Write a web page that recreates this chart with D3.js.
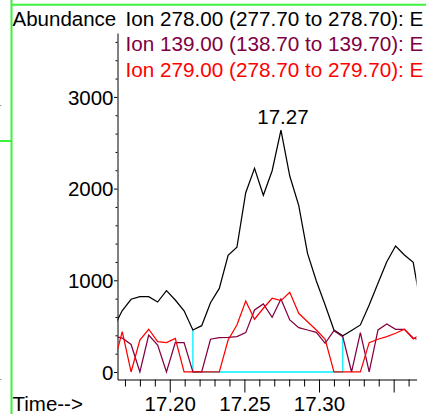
<!DOCTYPE html>
<html>
<head>
<meta charset="utf-8">
<script src="https://cdn.jsdelivr.net/npm/d3@7"></script>
<style>
  html, body { margin: 0; padding: 0; background: #fff; overflow: hidden; }
  svg { display: block; font-family: "Liberation Sans", Arial, sans-serif; }
</style>
</head>
<body>
<svg id="chart" width="426" height="414"></svg>
<script>
// Scan retention times (minutes)
const times = [17.1623, 17.1682, 17.1741, 17.1800, 17.1859, 17.1919, 17.1978, 17.2037, 17.2096, 17.2155,
  17.2214, 17.2273, 17.2332, 17.2391, 17.2450, 17.2509, 17.2568, 17.2627, 17.2686, 17.2745,
  17.2804, 17.2864, 17.2923, 17.2982, 17.3041, 17.3100, 17.3159, 17.3218, 17.3277, 17.3336,
  17.3395, 17.3454, 17.3513, 17.3572, 17.3631, 17.3690];

// Extracted ion abundances
const ion278 = [480, 670, 793, 821, 821, 763, 887, 785, 668, 458,
  505, 756, 911, 1273, 1360, 1955, 2221, 1927, 2195, 2639,
  2137, 1818, 1294, 992, 731, 458, 395, 453, 513, 731,
  967, 1203, 1374, 1276, 1196, 650];
const ion139 = [390, 370, 300, 0, 403, 294, 0, 320, 320, 0,
  0, 357, 374, 378, 385, 429, 676, 742, 597, 796,
  567, 483, 458, 433, 313, 450, 385, 0, 429, 0,
  458, 523, 466, 466, 370, 345];
const ion279 = [80, 440, 0, 349, 466, 330, 320, 367, 0, 0,
  0, 0, 0, 349, 513, 774, 575, 695, 804, 778,
  869, 640, 548, 458, 357, 0, 0, 0, 0, 320,
  357, 385, 422, 466, 360, 420];

const seriesLabels = [
  "Ion 278.00 (277.70 to 278.70): E",
  "Ion 139.00 (138.70 to 139.70): E",
  "Ion 279.00 (278.70 to 279.70): E"
];
const seriesColors = ["#000000", "#800040", "#ff0000"];

// Integration window (scan indices where baseline starts/ends)
const integStart = 9;
const integEnd = 26;

const xMajorTicks = [17.20, 17.25, 17.30, 17.35];
const xLabelled = ["17.20", "17.25", "17.30"];
const xMinorTicks = [17.17, 17.18, 17.19, 17.21, 17.22, 17.23, 17.24, 17.26, 17.27, 17.28, 17.29, 17.31, 17.32, 17.33, 17.34, 17.36];
const yMajorTicks = [0, 1000, 2000, 3000];
const yMinorTicks = [200, 400, 600, 800, 1200, 1400, 1600, 1800, 2200, 2400, 2600, 2800, 3200, 3400, 3600];

const svg = d3.select("#chart");
const FS = 20.5;

const x = d3.scaleLinear().domain([17.1650, 17.3653]).range([117.5, 416.5]);
const y = d3.scaleLinear().domain([-82, 3697]).range([379.5, 33]);

// Window frame
const frame = svg.append("g").attr("stroke", "#3df23d").attr("stroke-width", 2);
frame.append("line").attr("x1", 11.5).attr("x2", 11.5).attr("y1", 0).attr("y2", 414);
frame.append("line").attr("x1", 11).attr("x2", 426).attr("y1", 4.8).attr("y2", 4.8);
frame.append("line").attr("x1", 0).attr("x2", 11).attr("y1", 141).attr("y2", 141);
svg.append("rect").attr("x", 0).attr("y", 105).attr("width", 1.5).attr("height", 1).attr("fill", "#999");
svg.append("rect").attr("x", 0).attr("y", 379).attr("width", 1.5).attr("height", 1).attr("fill", "#999");

// Axes
const yAxis = svg.append("g").attr("transform", "translate(117.5,0)")
  .call(d3.axisLeft(y).tickValues(yMajorTicks).tickSize(3.5).tickSizeOuter(0).tickFormat(d3.format("d")));
yAxis.select(".domain").attr("stroke", "#000");
yAxis.selectAll(".tick text").attr("font-size", FS).attr("font-family", "Liberation Sans, Arial, sans-serif")
  .attr("fill", "#000").attr("x", -4).attr("dy", null).attr("y", 7.3);
const yMinor = svg.append("g").attr("transform", "translate(117.5,0)")
  .call(d3.axisLeft(y).tickValues(yMinorTicks).tickSize(2).tickFormat(""));
yMinor.select(".domain").remove();

const xAxis = svg.append("g").attr("transform", "translate(0,379.5)")
  .call(d3.axisBottom(x).tickValues(xMajorTicks).tickSize(13).tickSizeOuter(0)
    .tickFormat(d => { const s = d3.format(".2f")(d); return xLabelled.includes(s) ? s : ""; }));
xAxis.select(".domain").attr("stroke", "#000");
xAxis.selectAll(".tick text").attr("font-size", FS).attr("font-family", "Liberation Sans, Arial, sans-serif")
  .attr("fill", "#000").attr("dy", null).attr("y", 31);
const xMinor = svg.append("g").attr("transform", "translate(0,379.5)")
  .call(d3.axisBottom(x).tickValues(xMinorTicks).tickSize(7).tickFormat(""));
xMinor.select(".domain").remove();

// Plot area
svg.append("clipPath").attr("id", "plotclip").append("rect")
  .attr("x", 117.5).attr("y", 0).attr("width", 416.5 - 117.5).attr("height", 379);
const plot = svg.append("g").attr("clip-path", "url(#plotclip)");

// Integration baseline
const baselinePts = [
  [times[integStart], ion278[integStart]],
  [times[integStart], 0],
  [times[integEnd], 0],
  [times[integEnd], ion278[integEnd]]
];
plot.append("path")
  .attr("d", d3.line().x(d => x(d[0])).y(d => y(d[1]))(baselinePts))
  .attr("fill", "none").attr("stroke", "#00f0ff").attr("stroke-width", 1.3);

const line = d3.line().x((d, i) => x(times[i])).y(d => y(d));
[ion278, ion139, ion279].forEach((s, k) => {
  plot.append("path").attr("d", line(s))
    .attr("fill", "none").attr("stroke", seriesColors[k])
    .attr("stroke-width", 1.25).attr("stroke-linejoin", "miter");
});

// Peak apex label
const peakIdx = d3.maxIndex(ion278);
svg.append("text")
  .attr("x", x(times[peakIdx]) + 2).attr("y", y(ion278[peakIdx]) - 6)
  .attr("text-anchor", "middle").attr("font-size", FS).attr("fill", "#000")
  .text(d3.format(".2f")(times[peakIdx]));

// Header text
svg.append("text").attr("x", 12.5).attr("y", 25.5).attr("font-size", FS).attr("fill", "#000").text("Abundance");
seriesLabels.forEach((t, k) => {
  svg.append("text").attr("x", 125.5).attr("y", 25.5 + k * 25.7)
    .attr("font-size", 20.7).attr("fill", seriesColors[k]).text(t);
});
svg.append("text").attr("x", 12.5).attr("y", 410.5).attr("font-size", FS).attr("fill", "#000").text("Time-->");
</script>
</body>
</html>
